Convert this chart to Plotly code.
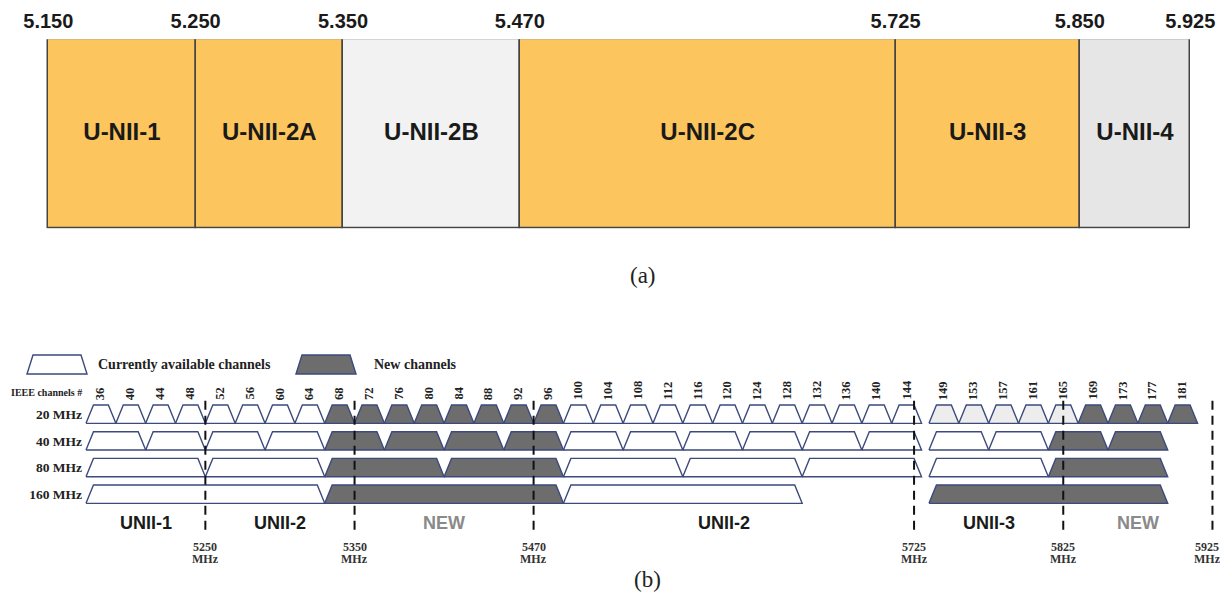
import plotly.graph_objects as go

# The page places the figure 8 px in from the window's top-left corner (body margin),
# so the figure is sized to fit inside the window and reference pixels are shifted.
OFF = 8
W, H = 1228 - 2 * OFF, 600 - 2 * OFF

# ---------------- panel (a) data ----------------
band_names = ["U-NII-1", "U-NII-2A", "U-NII-2B", "U-NII-2C", "U-NII-3", "U-NII-4"]
band_edges_ghz = [5.150, 5.250, 5.350, 5.470, 5.725, 5.850, 5.925]
band_edge_labels = ["5.150", "5.250", "5.350", "5.470", "5.725", "5.850", "5.925"]
band_kind = ["existing", "existing", "restricted", "existing", "existing", "proposed"]

# ---------------- panel (b) data ----------------
row_labels = ["20 MHz", "40 MHz", "80 MHz", "160 MHz"]
row_bandwidth_mhz = [20, 40, 80, 160]

ch20_numbers = [36, 40, 44, 48, 52, 56, 60, 64, 68, 72, 76, 80, 84, 88, 92, 96,
                100, 104, 108, 112, 116, 120, 124, 128, 132, 136, 140, 144,
                149, 153, 157, 161, 165, 169, 173, 177, 181]
ch20_kind = ["cur", "cur", "cur", "cur", "cur", "cur", "cur", "cur",
             "new", "new", "new", "new", "new", "new", "new", "new",
             "cur", "cur", "cur", "cur", "cur", "cur", "cur", "cur", "cur", "cur", "cur", "cur",
             "u3", "u3", "u3", "u3", "u3", "new", "new", "new", "new"]
ch40_numbers = [38, 46, 54, 62, 70, 78, 86, 94, 102, 110, 118, 126, 134, 142, 151, 159, 167, 175]
ch40_kind = ["cur", "cur", "cur", "cur", "new", "new", "new", "new",
             "cur", "cur", "cur", "cur", "cur", "cur", "cur", "cur", "new", "new"]
ch80_numbers = [42, 58, 74, 90, 106, 122, 138, 155, 171]
ch80_kind = ["cur", "cur", "new", "new", "cur", "cur", "cur", "cur", "new"]
ch160_numbers = [50, 82, 114, 163]
ch160_kind = ["cur", "new", "cur", "new"]

boundary_mhz = [5250, 5350, 5470, 5725, 5825, 5925]
region_names = ["UNII-1", "UNII-2", "NEW", "UNII-2", "UNII-3", "NEW"]
region_edges_mhz = [5150, 5250, 5350, 5470, 5725, 5825, 5925]
region_is_new = [False, False, True, False, False, True]

legend_labels = ["Currently available channels", "New channels"]

# ---------------- styles ----------------
SANS = "Liberation Sans, Arial, sans-serif"
SERIF = "Liberation Serif, Times New Roman, serif"
band_colors = {"existing": "#FDC55E", "restricted": "#F2F2F2", "proposed": "#E6E6E6"}
chan_fill = {"cur": "#FFFFFF", "new": "#6D6D6D", "u3": "#EDEDED"}
OUTLINE = "#3C4A7C"
HALF_H = 0.343      # half trapezoid height in row units
INSET = 5.0         # MHz slope inset of trapezoid tops


def px(x):
    """reference-window x pixel -> paper x"""
    return (x - OFF) / W


def py(y):
    """reference-window y pixel -> paper y"""
    return 1 - (y - OFF) / H


def ch_center(n):
    return 5000 + 5 * n


fig = go.Figure()

# ---------------- panel (a): band boxes ----------------
starts = band_edges_ghz[:-1]
widths = [b - a for a, b in zip(band_edges_ghz[:-1], band_edges_ghz[1:])]
fig.add_trace(go.Bar(
    orientation="h", y=[0] * len(band_names), x=widths, base=starts, width=1,
    marker=dict(color=[band_colors[k] for k in band_kind],
                line=dict(color="#444444", width=1.5)),
    hoverinfo="skip", showlegend=False, xaxis="x", yaxis="y"))
fig.add_trace(go.Scatter(
    x=[(a + b) / 2 for a, b in zip(starts, band_edges_ghz[1:])], y=[0] * len(band_names),
    mode="text", text=band_names,
    textfont=dict(family=SANS, size=24, color="#1A1A1A", weight="bold"),
    hoverinfo="skip", showlegend=False, xaxis="x", yaxis="y"))

# ---------------- panel (b): channel trapezoids ----------------
rows = [(ch20_numbers, ch20_kind), (ch40_numbers, ch40_kind),
        (ch80_numbers, ch80_kind), (ch160_numbers, ch160_kind)]
for r, ((nums, kinds), bw) in enumerate(zip(rows, row_bandwidth_mhz)):
    for kind in ["cur", "u3", "new"]:
        xs, ys = [], []
        for n, k in zip(nums, kinds):
            if k != kind:
                continue
            lo = ch_center(n) - bw / 2
            hi = ch_center(n) + bw / 2
            xs += [lo, lo + INSET, hi - INSET, hi, lo, None]
            ys += [r + HALF_H, r - HALF_H, r - HALF_H, r + HALF_H, r + HALF_H, None]
        if not xs:
            continue
        fig.add_trace(go.Scatter(
            x=xs, y=ys, mode="lines", fill="toself", fillcolor=chan_fill[kind],
            line=dict(color=OUTLINE, width=1.4), hoverinfo="skip", showlegend=False,
            xaxis="x2", yaxis="y2"))

# dashed boundaries
dx, dy = [], []
for b in boundary_mhz:
    dx += [b, b, None]
    dy += [-0.5, 4.35, None]
fig.add_trace(go.Scatter(
    x=dx, y=dy, mode="lines", line=dict(color="#111111", width=2, dash="9px,6px"),
    hoverinfo="skip", showlegend=False, xaxis="x2", yaxis="y2"))

annotations = []
# channel numbers (20 MHz row)
for n in ch20_numbers:
    annotations.append(dict(
        x=ch_center(n), y=-0.46, xref="x2", yref="y2", text=str(n), textangle=-90,
        showarrow=False, xanchor="center", yanchor="bottom",
        font=dict(family=SERIF, size=12.5, color="#222222", weight="bold")))

# region labels
first_channel_lo = ch_center(ch20_numbers[0]) - row_bandwidth_mhz[0] / 2
for name, lo, hi, is_new in zip(region_names, region_edges_mhz[:-1], region_edges_mhz[1:], region_is_new):
    lo = max(lo, first_channel_lo)
    annotations.append(dict(
        x=(lo + hi) / 2, y=4.08, xref="x2", yref="y2", text=name, showarrow=False,
        yanchor="middle",
        font=dict(family=SANS, size=18, color="#8A8A8A" if is_new else "#1A1A1A", weight="bold")))

# boundary frequency labels (the last one nudged in to stay inside the page)
for i, b in enumerate(boundary_mhz):
    shift = -5 if i == len(boundary_mhz) - 1 else 0
    annotations.append(dict(x=b, y=4.98, xref="x2", yref="y2", text=str(b), showarrow=False,
                            xshift=shift, yanchor="middle",
                            font=dict(family=SERIF, size=12, color="#333333", weight="bold")))
    annotations.append(dict(x=b, y=5.43, xref="x2", yref="y2", text="MHz", showarrow=False,
                            xshift=shift, yanchor="middle",
                            font=dict(family=SERIF, size=12, color="#333333", weight="bold")))

# IEEE label
annotations.append(dict(x=px(84), y=-0.83, xref="paper", yref="y2", text="IEEE channels #",
                        showarrow=False, xanchor="right", yanchor="middle",
                        font=dict(family=SERIF, size=10, color="#222222", weight="bold")))

# legend texts
annotations.append(dict(x=px(96), y=py(365), xref="paper", yref="paper", text=legend_labels[0],
                        showarrow=False, xanchor="left", yanchor="middle",
                        font=dict(family=SERIF, size=14, color="#222222", weight="bold")))
annotations.append(dict(x=px(372), y=py(365), xref="paper", yref="paper", text=legend_labels[1],
                        showarrow=False, xanchor="left", yanchor="middle",
                        font=dict(family=SERIF, size=14, color="#222222", weight="bold")))

# captions
annotations.append(dict(x=px(643), y=py(275), xref="paper", yref="paper", text="(a)",
                        showarrow=False, xanchor="center", yanchor="middle",
                        font=dict(family=SERIF, size=23, color="#222222")))
annotations.append(dict(x=px(647), y=py(579), xref="paper", yref="paper", text="(b)",
                        showarrow=False, xanchor="center", yanchor="middle",
                        font=dict(family=SERIF, size=23, color="#222222")))


def trap_path(x0, x1, ytop, ybot, inset):
    p = lambda x, y: f"{px(x):.5f},{py(y):.5f}"
    return (f"M {p(x0, ybot)} L {p(x0 + inset, ytop)} L {p(x1 - inset, ytop)} "
            f"L {p(x1, ybot)} Z")


shapes = [
    dict(type="path", xref="paper", yref="paper", path=trap_path(27, 87, 355, 374, 6),
         fillcolor=chan_fill["cur"], line=dict(color=OUTLINE, width=1.4)),
    dict(type="path", xref="paper", yref="paper", path=trap_path(296, 356, 355, 374, 6),
         fillcolor=chan_fill["new"], line=dict(color=OUTLINE, width=1.4)),
]

# axis geometry (reference-window pixels)
a_px_left, a_px_right = 48.3, 1190.3
a_scale = (a_px_right - a_px_left) / (band_edges_ghz[-1] - band_edges_ghz[0])
a_range = [band_edges_ghz[0] - (a_px_left - OFF) / a_scale,
           band_edges_ghz[-1] + (OFF + W - a_px_right) / a_scale]

b_px_per_mhz = 1.492
b_ref_px = 86.0
b_range = [first_channel_lo - (b_ref_px - OFF) / b_px_per_mhz,
           first_channel_lo + (OFF + W - b_ref_px) / b_px_per_mhz]

# panel (b) vertical geometry: row 0 centred at y=414.2 px, 26.67 px per row
row0_px, row_px = 414.2, 26.67
b_top_px = 340
y2_range = [(OFF + H - row0_px) / row_px, (b_top_px - row0_px) / row_px]

fig.update_layout(
    width=W, height=H, margin=dict(l=0, r=0, t=0, b=0),
    paper_bgcolor="white", plot_bgcolor="rgba(0,0,0,0)",
    showlegend=False, bargap=0,
    xaxis=dict(domain=[0, 1], range=a_range, side="top", anchor="y",
               tickvals=band_edges_ghz, ticktext=band_edge_labels, ticks="",
               showgrid=False, zeroline=False, showline=False, ticklabelstandoff=6,
               tickfont=dict(family=SANS, size=20, color="#1A1A1A", weight="bold"),
               fixedrange=True),
    yaxis=dict(domain=[py(228.7), py(39.3)], range=[-0.5, 0.5], visible=False,
               fixedrange=True),
    xaxis2=dict(domain=[0, 1], range=b_range, anchor="y2", visible=False, fixedrange=True),
    yaxis2=dict(domain=[0, py(b_top_px)], range=y2_range,
                anchor="free", position=px(82),
                tickvals=[0, 1, 2, 3], ticktext=row_labels, ticks="",
                showgrid=False, zeroline=False, showline=False,
                tickfont=dict(family=SERIF, size=13.5, color="#222222", weight="bold"),
                fixedrange=True),
    annotations=annotations,
    shapes=shapes,
)

fig.write_html("out.html")
